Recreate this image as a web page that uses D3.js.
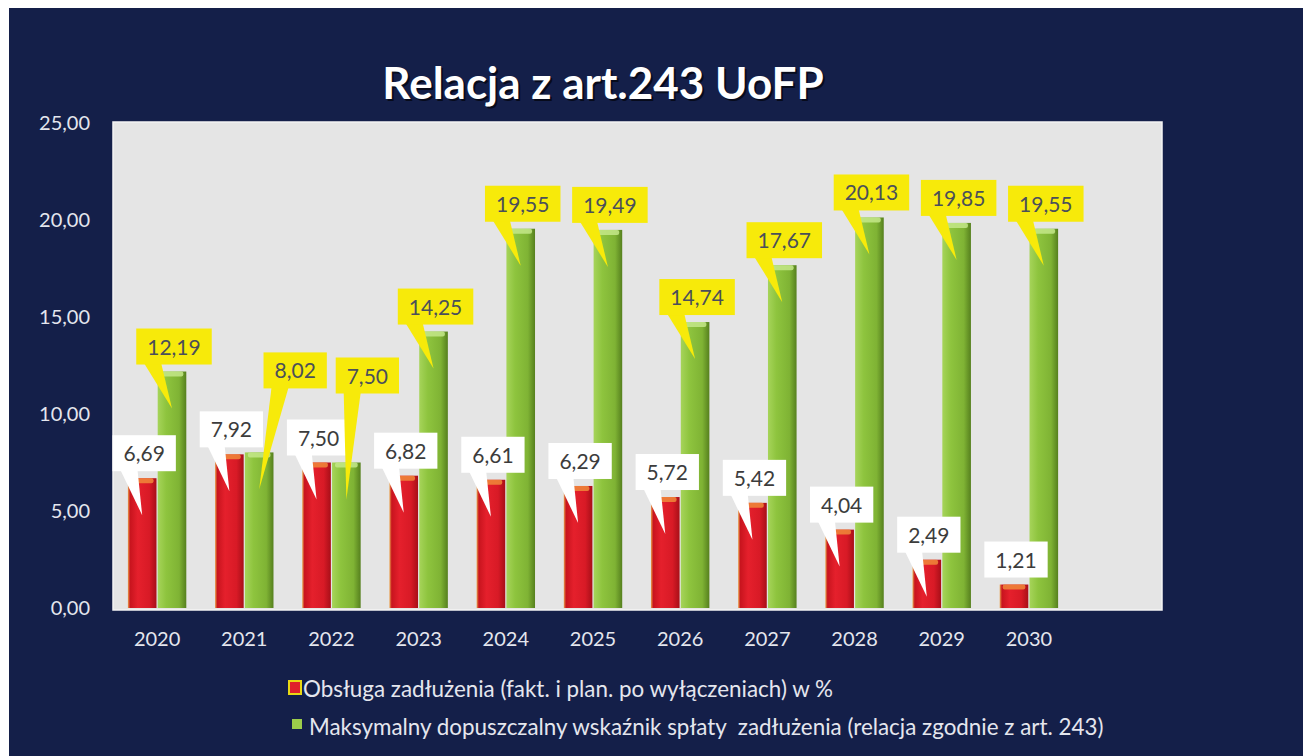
<!DOCTYPE html>
<html>
<head>
<meta charset="utf-8">
<script src="https://cdn.jsdelivr.net/npm/d3@7"></script>
<style>
  html, body { margin: 0; padding: 0; background: #ffffff; }
  svg { display: block; }
</style>
</head>
<body>
<div id="my_dataviz"></div>
<script>
// chart data
var years = ["2020", "2021", "2022", "2023", "2024", "2025", "2026", "2027", "2028", "2029", "2030"];
var obsluga = [6.69, 7.92, 7.50, 6.82, 6.61, 6.29, 5.72, 5.42, 4.04, 2.49, 1.21];
var maksymalny = [12.19, 8.02, 7.50, 14.25, 19.55, 19.49, 14.74, 17.67, 20.13, 19.85, 19.55];
var yTicks = [0, 5, 10, 15, 20, 25];
var seriesNames = [
  "Obsługa zadłużenia (fakt. i plan. po wyłączeniach) w %",
  "Maksymalny dopuszczalny wskaźnik spłaty  zadłużenia (relacja zgodnie z art. 243)"
];
var chartTitle = "Relacja z art.243 UoFP";

// label callouts that were moved by hand in the original (series index, year) -> [dx, dy]
var labelNudge = { "1-2021": [34, -57], "1-2022": [19, -62] };

var fontFamily = "Lato, 'Open Sans', sans-serif";
var W = 1309, H = 756;

var pl = d3.formatLocale({ decimal: ",", thousands: " ", grouping: [3], currency: ["", " zł"] });
var fmt = pl.format(".2f");

var svg = d3.select("#my_dataviz")
  .append("svg")
    .attr("width", W)
    .attr("height", H);

var defs = svg.append("defs");

// bar gradients
function hGrad(id, stops) {
  var g = defs.append("linearGradient").attr("id", id)
    .attr("x1", "0%").attr("x2", "100%").attr("y1", "0%").attr("y2", "0%");
  stops.forEach(function(s) {
    g.append("stop").attr("offset", s[0]).attr("stop-color", s[1]);
  });
}
hGrad("gradRed", [["0%", "#e9a04a"], ["8%", "#c8141e"], ["35%", "#e5202c"], ["75%", "#d81a26"], ["100%", "#a80f18"]]);
hGrad("gradGreen", [["0%", "#a6d45a"], ["30%", "#8ec43e"], ["75%", "#7fb334"], ["100%", "#56801e"]]);

// navy panel
svg.append("rect")
  .attr("x", 9).attr("y", 8)
  .attr("width", 1294).attr("height", H - 8)
  .attr("fill", "#141f49");

// plot area
var plot = { left: 113, right: 1162, top: 122, bottom: 610 };
svg.append("rect")
  .attr("x", plot.left).attr("y", plot.top)
  .attr("width", plot.right - plot.left).attr("height", plot.bottom - plot.top)
  .attr("fill", "#e5e5e5")
  .attr("stroke", "#f4f4f4").attr("stroke-width", 1.5);

// scales
var x0 = d3.scaleBand()
  .domain(years)
  .range([113.5, 1072.5])
  .paddingInner(0.33)
  .paddingOuter(0.165);

var x1 = d3.scaleBand()
  .domain([0, 1])
  .range([0, x0.bandwidth()])
  .paddingInner(0.04);

var y = d3.scaleLinear()
  .domain([0, 25])
  .range([608, 123]);

// axes
var yAxis = svg.append("g")
  .attr("transform", "translate(" + plot.left + ",0)")
  .call(d3.axisLeft(y).tickValues(yTicks).tickFormat(fmt).tickSize(0).tickPadding(23));
yAxis.select(".domain").remove();
yAxis.selectAll("text")
  .attr("font-family", fontFamily)
  .attr("font-size", 20)
  .attr("fill", "#e4e6ee");

var xAxis = svg.append("g")
  .attr("transform", "translate(0," + y(0) + ")")
  .call(d3.axisBottom(x0).tickSize(0).tickPadding(24));
xAxis.select(".domain").remove();
xAxis.selectAll("text")
  .attr("font-family", fontFamily)
  .attr("font-size", 20)
  .attr("fill", "#e4e6ee");

// bars
var series = [
  { key: 0, values: obsluga, fill: "url(#gradRed)", cap: "#f08a3a", box: "#ffffff", text: "#3c3c3c" },
  { key: 1, values: maksymalny, fill: "url(#gradGreen)", cap: "#c4e88a", box: "#f7ea0a", text: "#4a4f5a" }
];

var rows = [];
series.forEach(function(s) {
  years.forEach(function(yr, i) {
    rows.push({ s: s, year: yr, value: s.values[i] });
  });
});

var barLayer = svg.append("g");
barLayer.selectAll("rect.bar")
  .data(rows)
  .enter()
  .append("rect")
    .attr("class", "bar")
    .attr("x", function(d) { return x0(d.year) + x1(d.s.key); })
    .attr("y", function(d) { return y(d.value); })
    .attr("width", x1.bandwidth())
    .attr("height", function(d) { return y(0) - y(d.value); })
    .attr("fill", function(d) { return d.s.fill; });

// light cap at top of each bar
barLayer.selectAll("rect.cap")
  .data(rows)
  .enter()
  .append("rect")
    .attr("class", "cap")
    .attr("x", function(d) { return x0(d.year) + x1(d.s.key) + 3; })
    .attr("y", function(d) { return y(d.value); })
    .attr("width", x1.bandwidth() - 6)
    .attr("height", 5)
    .attr("rx", 2)
    .attr("fill", function(d) { return d.s.cap; })
    .attr("opacity", 0.85);

// callout labels
var labelLayer = svg.append("g");
rows.forEach(function(d) {
  var txt = fmt(d.value);
  var barX = x0(d.year) + x1(d.s.key) + x1.bandwidth() / 2;
  var nudge = labelNudge[d.s.key + "-" + d.year] || [0, 0];
  var g = labelLayer.append("g");

  var t = g.append("text")
    .attr("font-family", fontFamily)
    .attr("font-size", 21)
    .attr("fill", d.s.text)
    .attr("text-anchor", "middle")
    .text(txt);
  var tw = t.node().getComputedTextLength();
  var bw = tw + 22, bh = 36;
  var cx = barX + 2 + nudge[0];
  var bottom = y(d.value) - 7 + nudge[1];
  var left = cx - bw / 2;

  // tail
  if (y(0) - y(d.value) > 30) {
    var tipY = Math.min(y(d.value) + 37, y(0) - 6);
    g.insert("path", "text")
      .attr("d", "M" + (left + 8) + "," + (bottom - 1) +
                 "L" + (left + 25) + "," + (bottom - 1) +
                 "L" + barX + "," + tipY + "Z")
      .attr("fill", d.s.box);
  }
  g.insert("rect", "text")
    .attr("x", left).attr("y", bottom - bh)
    .attr("width", bw).attr("height", bh)
    .attr("fill", d.s.box);
  t.attr("x", cx).attr("y", bottom - bh + 26);
});

// title
[["#070b1c", 2], ["#ffffff", 0]].forEach(function(p) {
  svg.append("text")
    .attr("x", 603 + p[1]).attr("y", 99 + p[1])
    .attr("text-anchor", "middle")
    .attr("font-family", fontFamily)
    .attr("font-weight", 700)
    .attr("font-size", 44)
    .attr("fill", p[0])
    .text(chartTitle);
});

// legend
var legend = svg.append("g");
legend.append("rect")
  .attr("x", 289).attr("y", 681).attr("width", 12).attr("height", 13)
  .attr("fill", "#e0202a").attr("stroke", "#e8d814").attr("stroke-width", 2);
legend.append("rect")
  .attr("x", 292).attr("y", 719).attr("width", 10).attr("height", 10)
  .attr("fill", "#9ccc4a");
legend.selectAll("text.leg")
  .data(seriesNames)
  .enter()
  .append("text")
    .attr("class", "leg")
    .attr("x", function(d, i) { return i === 0 ? 303 : 309; })
    .attr("y", function(d, i) { return i === 0 ? 697 : 735; })
    .attr("font-family", fontFamily)
    .attr("font-size", 22.4)
    .attr("fill", "#e4e6ee")
    .style("white-space", "pre")
    .text(function(d) { return d; });
</script>
</body>
</html>
